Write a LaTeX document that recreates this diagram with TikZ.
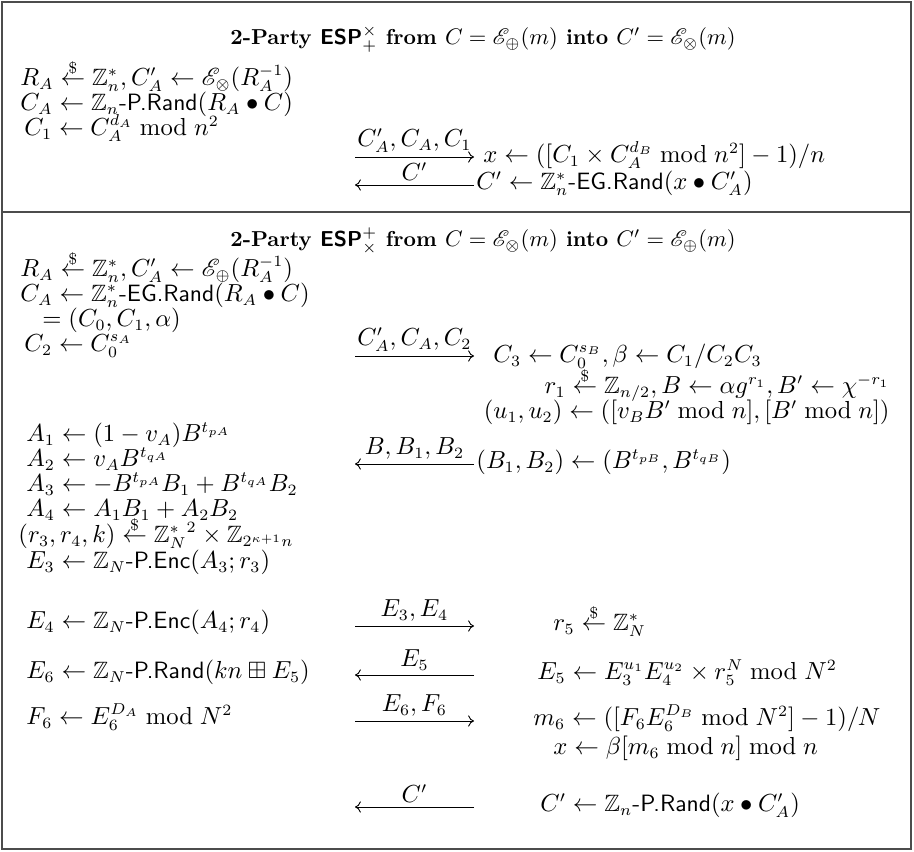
\documentclass[tikz,border=0pt]{standalone}
\usepackage{amsmath,amssymb}
\usepackage{mathrsfs}
\usetikzlibrary{arrows.meta}
\newcommand{\smp}{\mathrel{\overset{\raisebox{-1.3pt}[0pt][0pt]{$\scriptstyle\$$}}{\leftarrow}}}
\newcommand{\sfop}[1]{\text{\textsf{#1}}}
\newcommand{\EE}{\mathscr{E}}
\newcommand{\ZZ}{\mathbb{Z}}
\begin{document}
\begin{tikzpicture}[x=0.4444pt, y=-0.4444pt,
  frame/.style={line width=0.7pt, draw=black!70},
  txtfont/.style={font=\fontsize{10.5}{12.6}\selectfont},
  row/.style={txtfont, inner sep=0pt, anchor=mid west},
  rowr/.style={txtfont, inner sep=0pt, anchor=mid east},
  ttl/.style={font=\fontsize{9.6}{11.5}\selectfont, inner sep=0pt, anchor=mid},
  msg/.style={line width=0.4pt, -{To[length=2.6pt,width=5pt]}},
  lbl/.style={txtfont, midway, above=1.8pt, inner sep=0pt}]
\useasboundingbox (0,0) rectangle (914,852);
\draw[frame] (2,2) rectangle (911,849);
\draw[frame] (2,212) -- (911,212);

% ---------- top panel ----------
\node[ttl] (t1) at (483,40) {\textbf{2-Party \textsf{ESP}$^{\times}_{+}$ from $C=\EE_{\oplus}(m)$ into $C'=\EE_{\otimes}(m)$}};
\node[row] (p1) at (20,81)  {$R_A \smp \ZZ_n^*, C'_A \leftarrow \EE_{\otimes}(R_A^{-1})$};
\node[row] (p2) at (20,106) {$C_A \leftarrow \ZZ_n\sfop{-P.Rand}(R_A \bullet C)$};
\node[row] (p3) at (24,131) {$C_1 \leftarrow C_A^{d_A} \bmod n^2$};
\coordinate (m1s) at (355,157); \coordinate (m1e) at (474,157);
\draw[msg] (m1s) -- (m1e) node[lbl] (l1) {$C'_A, C_A, C_1$};
\node[row] (q1) at (483,158) {$x \leftarrow ([C_1 \times C_A^{d_B} \bmod n^2]-1)/n$};
\coordinate (m2s) at (355,185); \coordinate (m2e) at (474,185);
\draw[msg] (m2e) -- (m2s) node[lbl] (l2) {$C'$};
\node[row] (q2) at (476,185) {$C' \leftarrow \ZZ_n^*\sfop{-EG.Rand}(x \bullet C'_A)$};

% ---------- bottom panel ----------
\node[ttl] (t2) at (483,242) {\textbf{2-Party \textsf{ESP}$^{+}_{\times}$ from $C=\EE_{\otimes}(m)$ into $C'=\EE_{\oplus}(m)$}};
\node[row] (b1) at (20,272) {$R_A \smp \ZZ_n^*, C'_A \leftarrow \EE_{\oplus}(R_A^{-1})$};
\node[row] (b2) at (20,297) {$C_A \leftarrow \ZZ_n^*\sfop{-EG.Rand}(R_A \bullet C)$};
\node[row] (b3) at (42,322) {$=(C_0, C_1, \alpha)$};
\node[row] (b4) at (24,347) {$C_2 \leftarrow C_0^{s_A}$};
\coordinate (m3s) at (355,356); \coordinate (m3e) at (474,356);
\draw[msg] (m3s) -- (m3e) node[lbl] (l3) {$C'_A, C_A, C_2$};
\node[row] (c1) at (493,358) {$C_3 \leftarrow C_0^{s_B}, \beta \leftarrow C_1/C_2C_3$};
\node[rowr] (c2) at (890,389) {$r_1 \smp \ZZ_{n/2}, B \leftarrow \alpha g^{r_1}, B' \leftarrow \chi^{-r_1}$};
\node[rowr] (c3) at (890,414) {$(u_1,u_2) \leftarrow ([v_B B' \bmod n], [B' \bmod n])$};
\node[row] (b5) at (26,437) {$A_1 \leftarrow (1-v_A)B^{t_{pA}}$};
\node[row] (b6) at (26,462) {$A_2 \leftarrow v_A B^{t_{qA}}$};
\coordinate (m4s) at (355,464); \coordinate (m4e) at (474,464);
\draw[msg] (m4e) -- (m4s) node[lbl] (l4) {$B, B_1, B_2$};
\node[row] (c4) at (476,464) {$(B_1,B_2) \leftarrow (B^{t_{pB}}, B^{t_{qB}})$};
\node[row] (b7) at (26,487) {$A_3 \leftarrow -B^{t_{pA}}B_1 + B^{t_{qA}}B_2$};
\node[row] (b8) at (26,512) {$A_4 \leftarrow A_1B_1 + A_2B_2$};
\node[row] (b9) at (18,538) {$(r_3,r_4,k) \smp {\ZZ_N^*}^2 \times \ZZ_{2^{\kappa+1}n}$};
\node[row] (b10) at (26,564) {$E_3 \leftarrow \ZZ_N\sfop{-P.Enc}(A_3;r_3)$};
\node[row] (b11) at (26,624) {$E_4 \leftarrow \ZZ_N\sfop{-P.Enc}(A_4;r_4)$};
\coordinate (m5s) at (355,626); \coordinate (m5e) at (474,626);
\draw[msg] (m5s) -- (m5e) node[lbl] (l5) {$E_3, E_4$};
\node[row] (c5) at (553,626) {$r_5 \smp \ZZ_N^*$};
\node[row] (b12) at (26,674) {$E_6 \leftarrow \ZZ_N\sfop{-P.Rand}(kn \boxplus E_5)$};
\coordinate (m6s) at (355,675); \coordinate (m6e) at (474,675);
\draw[msg] (m6e) -- (m6s) node[lbl] (l6) {$E_5$};
\node[row] (c6) at (537,675) {$E_5 \leftarrow E_3^{u_1}E_4^{u_2} \times r_5^N \bmod N^2$};
\node[row] (b13) at (26,720) {$F_6 \leftarrow E_6^{D_A} \bmod N^2$};
\coordinate (m7s) at (355,721); \coordinate (m7e) at (474,721);
\draw[msg] (m7s) -- (m7e) node[lbl] (l7) {$E_6, F_6$};
\node[row] (c7) at (533,721) {$m_6 \leftarrow ([F_6E_6^{D_B} \bmod N^2]-1)/N$};
\node[row] (c8) at (553,750) {$x \leftarrow \beta[m_6 \bmod n] \bmod n$};
\coordinate (m8s) at (355,807); \coordinate (m8e) at (474,807);
\draw[msg] (m8e) -- (m8s) node[lbl] (l8) {$C'$};
\node[row] (c9) at (540,807) {$C' \leftarrow \ZZ_n\sfop{-P.Rand}(x \bullet C'_A)$};
\end{tikzpicture}
\end{document}
